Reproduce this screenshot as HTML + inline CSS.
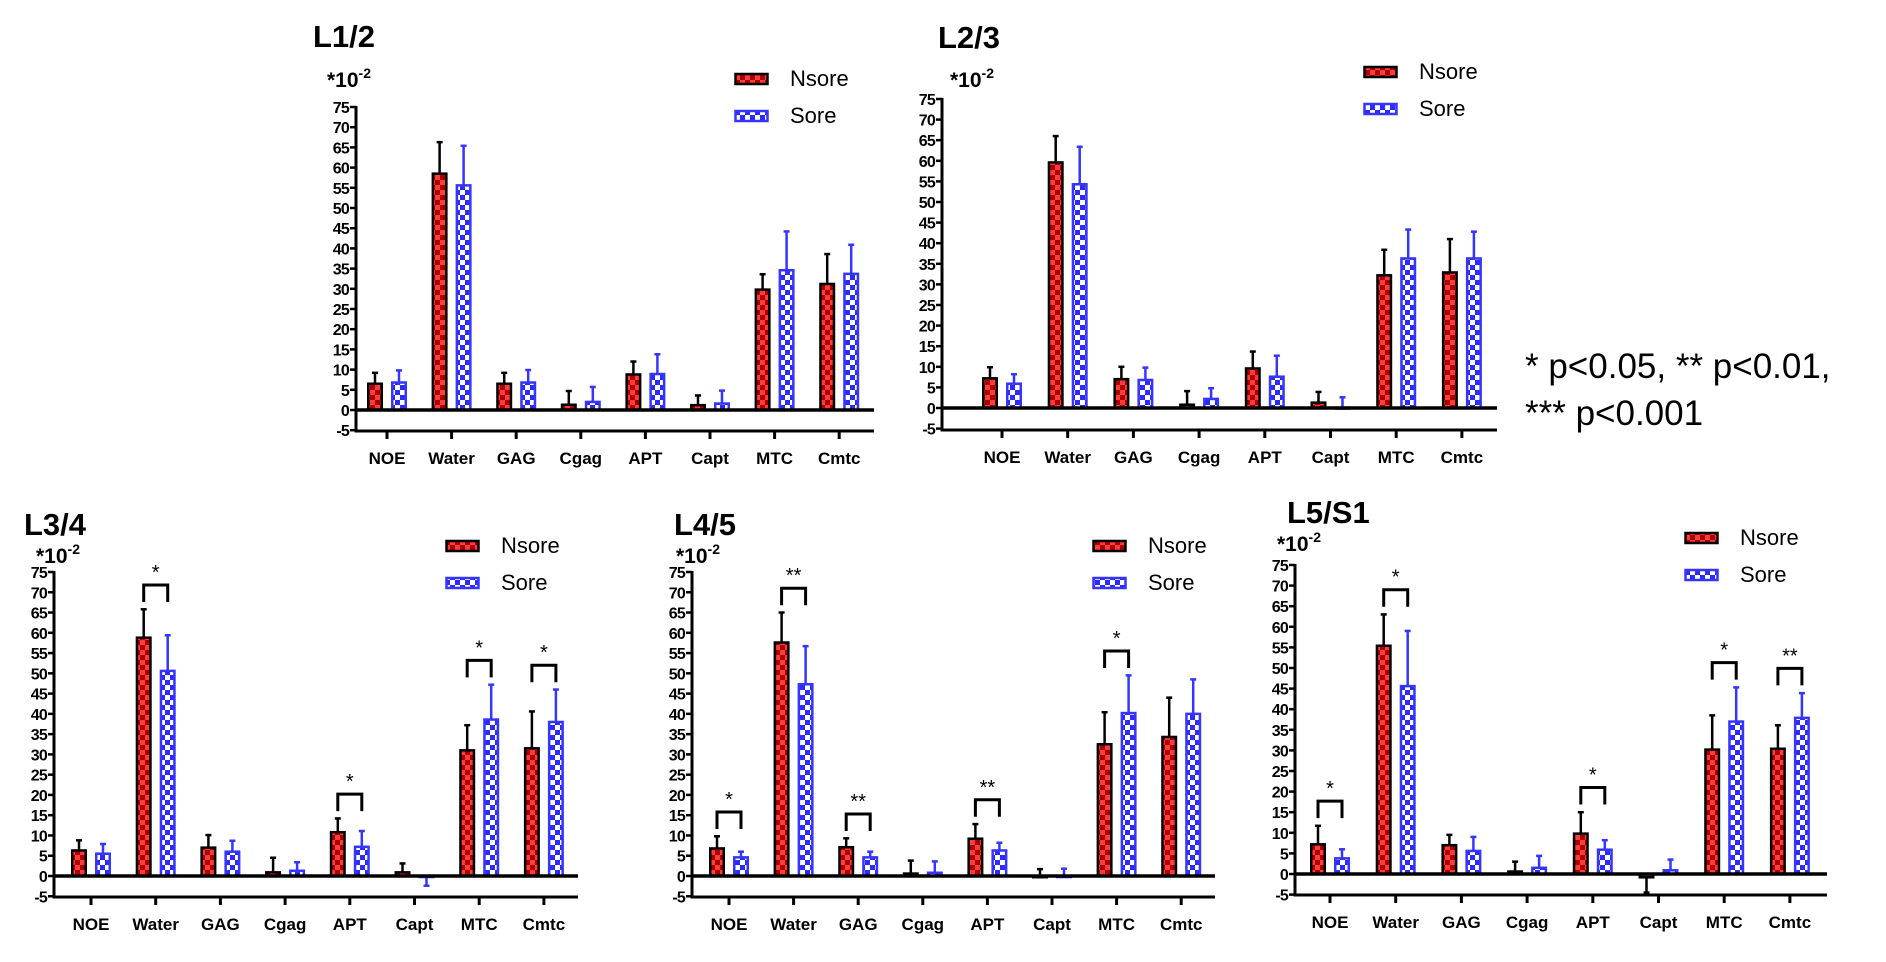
<!DOCTYPE html>
<html><head><meta charset="utf-8">
<style>
html,body{margin:0;padding:0;background:#fff;}
body{width:1886px;height:957px;overflow:hidden;font-family:"Liberation Sans",Arial,sans-serif;}
svg text{font-family:"Liberation Sans",Arial,sans-serif;}
</style></head>
<body>
<svg id="chart" width="1886" height="957" viewBox="0 0 1886 957" xmlns="http://www.w3.org/2000/svg">
<defs>
<pattern id="pN" width="10" height="10" patternUnits="userSpaceOnUse">
<rect width="10" height="10" fill="#a80000"/><rect x="0" y="0" width="5" height="5" fill="#ff3b3b"/><rect x="5" y="5" width="5" height="5" fill="#ff3b3b"/>
</pattern>
<pattern id="pS" width="10" height="10" patternUnits="userSpaceOnUse">
<rect width="10" height="10" fill="#2b2bff"/><rect x="0" y="0" width="5" height="5" fill="#fff"/><rect x="5" y="5" width="5" height="5" fill="#fff"/>
</pattern>
</defs>
<text x="1525" y="378" font-size="35">* p&lt;0.05, ** p&lt;0.01,</text>
<text x="1525" y="425" font-size="35">*** p&lt;0.001</text>
</svg>
<script>
const categories = ["NOE","Water","GAG","Cgag","APT","Capt","MTC","Cmtc"];
const yTicks = [75,70,65,60,55,50,45,40,35,30,25,20,15,10,5,0,-5];
const panelTitles = ["L1/2","L2/3","L3/4","L4/5","L5/S1"];
const nsoreMeans = [
 [6.5,58.5,6.5,1.3,8.8,1.2,29.8,31.2],
 [7.2,59.6,7.0,0.8,9.6,1.3,32.2,32.9],
 [6.3,58.8,7.0,0.9,10.8,0.9,31.0,31.5],
 [6.8,57.6,7.1,0.6,9.2,-0.3,32.5,34.3],
 [7.2,55.4,7.0,0.6,9.8,-0.8,30.2,30.4]];
const nsoreErrEnds = [
 [9.2,66.3,9.2,4.7,12.0,3.6,33.6,38.6],
 [9.9,66.0,10.0,4.1,13.7,3.9,38.4,41.0],
 [8.8,65.8,10.1,4.5,14.2,3.1,37.2,40.6],
 [9.8,65.0,9.3,3.8,12.8,1.7,40.4,44.0],
 [11.7,63.0,9.5,3.0,15.0,-4.5,38.5,36.1]];
const soreMeans = [
 [6.8,55.6,6.8,2.0,8.9,1.6,34.6,33.7],
 [5.9,54.3,6.8,2.2,7.6,0.1,36.3,36.3],
 [5.5,50.6,6.0,1.3,7.2,-0.1,38.6,38.0],
 [4.6,47.3,4.6,0.8,6.3,-0.2,40.2,40.0],
 [3.8,45.6,5.6,1.5,5.9,0.9,37.0,37.9]];
const soreErrEnds = [
 [9.8,65.4,9.9,5.7,13.8,4.8,44.2,40.9],
 [8.2,63.4,9.8,4.8,12.7,2.6,43.3,42.8],
 [7.9,59.4,8.7,3.4,11.1,-2.4,47.2,46.0],
 [6.0,56.7,6.0,3.6,8.2,1.8,49.5,48.5],
 [6.0,59.0,9.0,4.4,8.2,3.5,45.3,43.9]];
const significance = [
 ["","","","","","","",""],
 ["","","","","","","",""],
 ["","*","","","*","","*","*"],
 ["*","**","**","","**","","*",""],
 ["*","*","","","*","","*","**"]];

const layout = [
 {ax:356,xEnd:874,y75:107,y0:410,yN5:431,c0:387,sp:64.6,tx:313,ty:47,mx:327,my:87,lx:734,ly:78},
 {ax:942,xEnd:1497,y75:99,y0:408,yN5:430,c0:1002,sp:65.7,tx:938,ty:48,mx:950,my:87,lx:1363,ly:71},
 {ax:54,xEnd:578,y75:572,y0:876,yN5:897,c0:91,sp:64.7,tx:24,ty:535,mx:36,my:563,lx:445,ly:545},
 {ax:692,xEnd:1215,y75:572,y0:876,yN5:897,c0:729,sp:64.6,tx:674,ty:535,mx:676,my:563,lx:1092,ly:545},
 {ax:1295,xEnd:1827,y75:565,y0:874,yN5:895,c0:1330,sp:65.7,tx:1287,ty:523,mx:1277,my:551,lx:1684,ly:537}];

const NS="http://www.w3.org/2000/svg";
const svg=document.getElementById('chart');
function mk(tag,attrs,parent){const e=document.createElementNS(NS,tag);for(const k in attrs)e.setAttribute(k,attrs[k]);(parent||svg).appendChild(e);return e;}

layout.forEach((L,p)=>{
 const g=mk('g',{});
 
 
 const unit=(L.y0-L.y75)/75;
 const yS=v=>L.y0-v*unit;
 const xC=i=>L.c0+i*L.sp;
 const t=mk('text',{x:L.tx,y:L.ty,'font-size':31,'font-weight':'bold'},g);t.textContent=panelTitles[p];
 
 
 const m=mk('text',{x:L.mx,y:L.my,'font-size':21,'font-weight':'bold'},g);
 m.innerHTML='*10<tspan font-size="14" dy="-9">-2</tspan>';
 
 
 const ya=mk('line',{x1:L.ax,y1:yS(75)-1,x2:L.ax,y2:L.yN5+1.5,stroke:'#000','stroke-width':3},g);
 
 
 yTicks.forEach(v=>{
  const y=yS(v);
  mk('line',{x1:L.ax-6,y1:y,x2:L.ax,y2:y,stroke:'#000','stroke-width':2.5},g);
  const tl=mk('text',{x:L.ax-7,y:y+6,'font-size':16,'font-weight':'bold','text-anchor':'end','letter-spacing':'-0.8'},g);
  tl.textContent=v;
  
  
 });
 const xa=mk('line',{x1:L.ax-1.5,y1:L.yN5,x2:L.xEnd,y2:L.yN5,stroke:'#000','stroke-width':3},g);
 
 
 categories.forEach((c,i)=>{
  const x=xC(i);
  mk('line',{x1:x,y1:L.yN5,x2:x,y2:L.yN5+8,stroke:'#000','stroke-width':3},g);
  const cl=mk('text',{x:x,y:L.yN5+33,'font-size':17,'font-weight':'bold','text-anchor':'middle'},g);
  cl.textContent=c;
  
  
 });
 categories.forEach((c,i)=>{
  const x=xC(i);
  const series=[[nsoreMeans[p][i],nsoreErrEnds[p][i],x-20,'url(#pN)','#000','nsore'],[soreMeans[p][i],soreErrEnds[p][i],x+4,'url(#pS)','#3535ff','sore']];
  series.forEach(s=>{
   const [v,e,bx,fill,col,nm]=s;
   const y1=yS(Math.max(v,0)),y2=yS(Math.min(v,0));
   const eb=mk('line',{x1:bx+8,y1:yS(v),x2:bx+8,y2:yS(e),stroke:col,'stroke-width':2.5},g);
   
   
   mk('line',{x1:bx+5,y1:yS(e),x2:bx+11,y2:yS(e),stroke:col,'stroke-width':2.5},g);
   const r=mk('rect',{x:bx+1.25,y:y1,width:13.5,height:Math.max(y2-y1,1),fill:fill,stroke:col,'stroke-width':2.5},g);
   
   
  });
  const sig=significance[p][i];
  if(sig){
   const top=Math.max(nsoreErrEnds[p][i],soreErrEnds[p][i],nsoreMeans[p][i],soreMeans[p][i])+6;
   const by=yS(top);
   const br=mk('polyline',{points:`${x-12},${by+17} ${x-12},${by} ${x+12},${by} ${x+12},${by+17}`,fill:'none',stroke:'#000','stroke-width':3},g);
   
   
   const st=mk('text',{x:x,y:by-6,'font-size':20,'text-anchor':'middle'},g);
   st.textContent=sig;
   
   
  }
 });
 const zl=mk('line',{x1:L.ax,y1:L.y0,x2:L.xEnd,y2:L.y0,stroke:'#000','stroke-width':3.5},g);
 
 
 [['Nsore','url(#pN)','#000',0],['Sore','url(#pS)','#3535ff',37]].forEach(l=>{
  const sw=mk('rect',{x:L.lx+1.5,y:L.ly-4+l[3],width:32,height:10,fill:l[1],stroke:l[2],'stroke-width':2.5},g);
  
  
  const lt=mk('text',{x:L.lx+56,y:L.ly+8+l[3],'font-size':22},g);
  lt.textContent=l[0];
  
  
 });
});
</script>
</body></html>
